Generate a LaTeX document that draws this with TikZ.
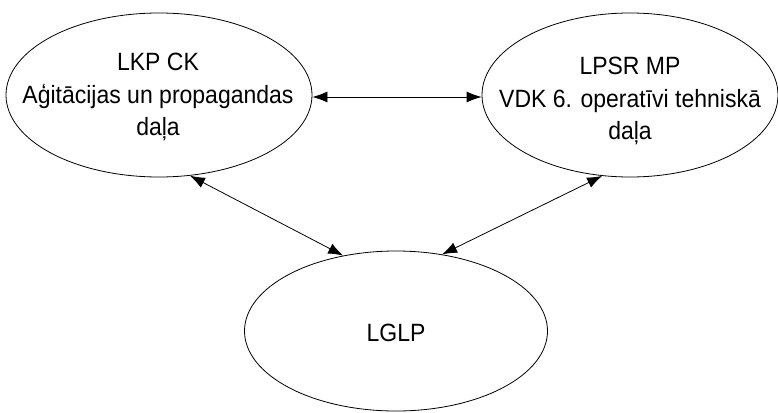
\documentclass[tikz,border=0pt]{standalone}
\usepackage{fontspec}
\setmainfont[FakeStretch=0.92]{Liberation Sans}
\usetikzlibrary{shapes.geometric,arrows.meta}
\begin{document}
\begin{tikzpicture}[x=1pt,y=-1pt,
  org/.style={draw,ellipse,line width=0.8pt,inner sep=0pt},
  txt/.style={align=center,inner sep=0pt,font=\fontsize{25}{32.5}\selectfont},
  link/.style={line width=0.8pt,{Latex[length=15pt,width=11pt]}-{Latex[length=15pt,width=11pt]}}]
\useasboundingbox (0,0) rectangle (778,412);
\node[org,minimum width=306pt,minimum height=164pt] (lkp) at (159,95) {};
\node[org,minimum width=296pt,minimum height=164pt] (lpsr) at (630,95) {};
\node[org,minimum width=303pt,minimum height=160pt] (lglp) at (396,331) {};
\node[txt] (lkpt) at (158,97) {LKP CK\\Aģitācijas un propagandas\\daļa};
\node[txt] (lpsrt) at (630,101) {LPSR MP\\VDK 6. operatīvi tehniskā\\daļa};
\node[txt] (lglpt) at (396,333) {LGLP};
\draw[link] ([yshift=-2pt]lkp.east) -- ([yshift=-2pt]lpsr.west);
\draw[link] (lkp.-69) -- (lglp.125);
\draw[link] (lglp.59) -- (lpsr.-109);
\end{tikzpicture}
\end{document}
